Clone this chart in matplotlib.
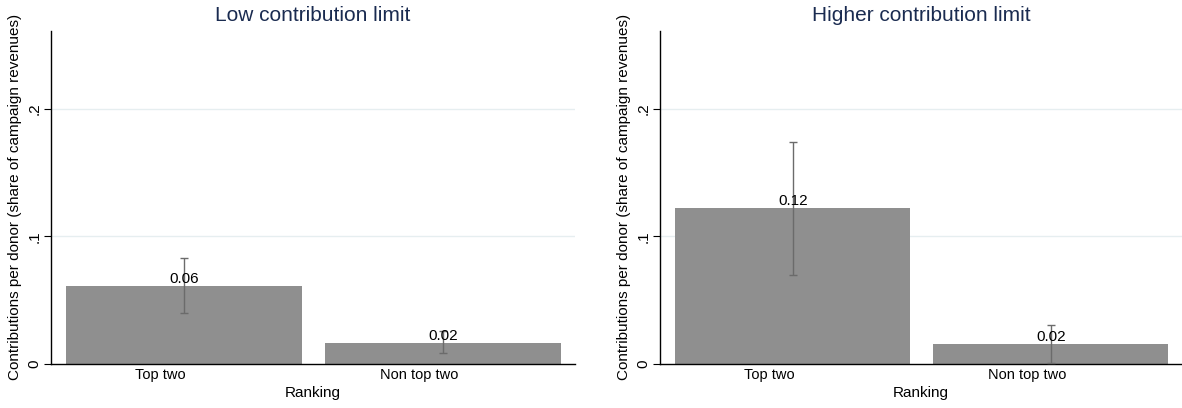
import matplotlib
matplotlib.use("Agg")
import matplotlib.pyplot as plt
import numpy as np

plt.rcParams['font.family'] = ['Liberation Sans', 'DejaVu Sans']

categories = ["Top two", "Non top two"]
titles = ["Low contribution limit", "Higher contribution limit"]
values_low = [0.0613, 0.0167]
err_lo_low = [0.0397, 0.0088]
err_hi_low = [0.0832, 0.0258]
values_high = [0.1220, 0.0159]
err_lo_high = [0.0699, 0.0005]
err_hi_high = [0.1742, 0.0308]
labels_low = ["0.06", "0.02"]
labels_high = ["0.12", "0.02"]
yticks = [0, 0.1, 0.2]
yticklabels = ["0", ".1", ".2"]

fig = plt.figure(figsize=(11.82, 4.08), dpi=100)
ax1 = fig.add_axes([51/1182, 1-364/408, 524/1182, (364-30.7)/408])
ax2 = fig.add_axes([660/1182, 1-364/408, 522/1182, (364-30.7)/408])

panels = [
    (ax1, titles[0], values_low, err_lo_low, err_hi_low, labels_low),
    (ax2, titles[1], values_high, err_lo_high, err_hi_high, labels_high),
]

bar_color = "#8f8f8f"
err_color = "#6b6b6b"
grid_color = "#e6eef0"
title_color = "#1a2b50"
label_shift = -0.092  # category labels sit left of bar centres in the original

for ax, title, vals, lo, hi, labs in panels:
    x = np.arange(len(categories))
    ax.bar(x, vals, width=0.911, color=bar_color, zorder=2)
    vals_a = np.array(vals)
    yerr = np.vstack([vals_a - np.array(lo), np.array(hi) - vals_a])
    ax.errorbar(x, vals, yerr=yerr, fmt="none", ecolor=err_color,
                elinewidth=1.0, capsize=3, capthick=1.0, zorder=3)
    for xi, v, lab in zip(x, vals, labs):
        ax.text(xi, v, lab, ha="center", va="bottom", fontsize=11,
                color="black", zorder=4)
    ax.set_xlim(-0.514, 1.508)
    ax.set_ylim(0, 0.261)
    ax.set_yticks(yticks)
    ax.set_yticklabels(yticklabels, rotation=90, va="center", fontsize=11)
    ax.set_xticks(x + label_shift)
    ax.set_xticklabels(categories, fontsize=10.5)
    ax.tick_params(axis="x", length=0, pad=3)
    ax.tick_params(axis="y", length=5, width=0.8, pad=2)
    for yv in yticks[1:]:
        ax.axhline(yv, color=grid_color, lw=1.0, zorder=1)
    ax.spines["top"].set_visible(False)
    ax.spines["right"].set_visible(False)
    ax.spines["left"].set_linewidth(1.0)
    ax.spines["bottom"].set_linewidth(1.0)
    ax.set_xlabel("Ranking", fontsize=11, labelpad=3)
    ax.set_ylabel("Contributions per donor (share of campaign revenues)",
                  fontsize=11, labelpad=4)
    ax.set_title(title, fontsize=15, color=title_color, pad=7)

fig.savefig("out.png", dpi=100)
